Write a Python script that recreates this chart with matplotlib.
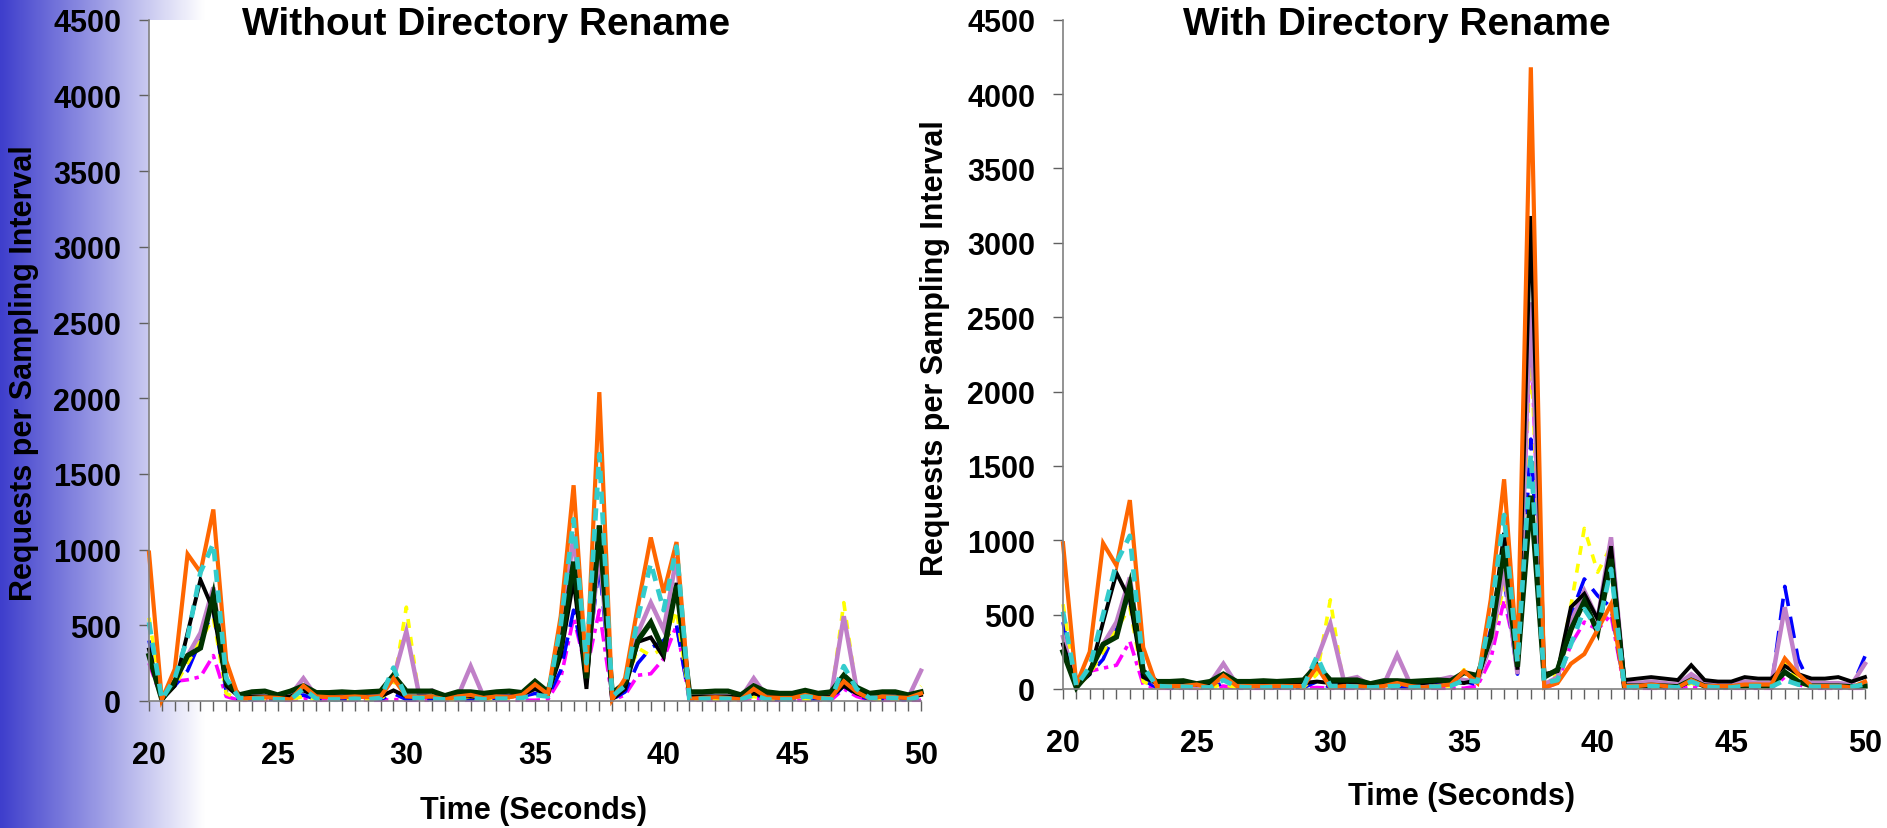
import numpy as np
import matplotlib
matplotlib.use('Agg')
import matplotlib.pyplot as plt
from matplotlib.ticker import MultipleLocator, FuncFormatter

plt.rcParams['font.family'] = ['Liberation Sans', 'DejaVu Sans']
plt.rcParams['font.weight'] = 'bold'

# sample times, 0.5 s steps from 20 to 50
times = [20 + 0.5 * i for i in range(61)]

# ---- Without Directory Rename ----
orange_l = [980, 10, 210, 970, 850, 1265, 265, 15, 20, 25,
            20, 10, 100, 30, 25, 25, 30, 25, 30, 150,
            30, 25, 30, 10, 30, 40, 20, 30, 25, 40,
            110, 45, 560, 1425, 190, 2040, 10, 150, 630, 1080,
            715, 1050, 15, 20, 25, 20, 10, 80, 25, 20,
            20, 40, 20, 20, 130, 60, 15, 30, 25, 20,
            50]
cyan_l = [520, 10, 150, 420, 850, 1040, 150, 20, 15, 15,
          10, 10, 80, 15, 10, 10, 15, 10, 20, 220,
          20, 20, 15, 10, 15, 20, 10, 15, 15, 20,
          40, 30, 500, 1200, 250, 1630, 30, 100, 550, 910,
          600, 1020, 10, 15, 15, 15, 10, 40, 10, 10,
          10, 30, 20, 10, 230, 80, 20, 20, 20, 10,
          30]
black_l = [340, 10, 100, 450, 800, 600, 100, 30, 30, 30,
           20, 30, 70, 30, 30, 30, 30, 30, 30, 70,
           30, 30, 30, 20, 30, 30, 20, 30, 30, 40,
           80, 40, 300, 800, 80, 1150, 10, 80, 390, 420,
           290, 780, 30, 30, 30, 30, 20, 50, 30, 30,
           30, 40, 30, 30, 100, 50, 20, 30, 30, 20,
           40]
green_l = [300, 10, 130, 300, 350, 700, 130, 40, 60, 65,
           40, 65, 100, 55, 55, 60, 55, 60, 65, 170,
           65, 65, 65, 35, 60, 60, 50, 60, 65, 55,
           130, 60, 350, 920, 150, 1160, 50, 120, 400, 520,
           330, 760, 60, 60, 65, 65, 40, 100, 60, 50,
           50, 70, 50, 60, 170, 90, 50, 60, 60, 40,
           60]
purple_l = [300, 10, 120, 300, 450, 750, 100, 30, 30, 30,
            20, 40, 150, 30, 30, 30, 40, 30, 30, 150,
            460, 40, 70, 20, 30, 230, 30, 30, 60, 40,
            80, 50, 400, 1100, 150, 1000, 20, 100, 450, 650,
            470, 950, 20, 30, 30, 30, 20, 150, 30, 20,
            20, 40, 30, 30, 560, 80, 20, 30, 30, 20,
            200]
yellow_l = [550, 10, 100, 250, 400, 550, 50, 10, 10, 10,
            10, 10, 30, 10, 10, 10, 10, 10, 10, 100,
            620, 20, 30, 10, 10, 30, 10, 10, 20, 20,
            130, 40, 300, 900, 300, 1100, 20, 100, 350, 300,
            350, 600, 10, 10, 10, 10, 10, 30, 10, 10,
            10, 10, 10, 10, 650, 60, 10, 10, 10, 10,
            100]
blue_l = [400, 10, 100, 200, 400, 600, 60, 10, 10, 10,
          10, 10, 40, 10, 10, 10, 10, 10, 10, 50,
          10, 10, 10, 10, 10, 10, 10, 20, 30, 30,
          50, 30, 200, 600, 200, 900, 10, 60, 250, 350,
          400, 500, 10, 10, 10, 10, 10, 50, 10, 10,
          10, 10, 10, 10, 100, 40, 10, 10, 10, 10,
          20]
magenta_l = [250, 10, 130, 140, 160, 300, 30, 5, 5, 5,
             5, 5, 20, 5, 5, 5, 5, 5, 5, 10,
             5, 5, 5, 5, 5, 5, 5, 5, 5, 5,
             5, 10, 150, 550, 200, 600, 5, 40, 170, 180,
             280, 500, 5, 5, 5, 5, 5, 20, 5, 5,
             5, 5, 5, 5, 80, 30, 5, 5, 5, 5,
             5]

# ---- With Directory Rename ----
orange_r = [980, 30, 250, 980, 830, 1270, 280, 20, 20, 20,
            30, 10, 90, 20, 20, 20, 20, 20, 20, 150,
            10, 20, 20, 10, 20, 40, 20, 10, 20, 30,
            120, 40, 600, 1410, 200, 4180, 10, 40, 170, 235,
            400, 570, 20, 20, 30, 20, 10, 60, 20, 20,
            20, 30, 30, 30, 205, 100, 20, 20, 20, 10,
            50]
cyan_r = [520, 20, 150, 500, 850, 1030, 150, 20, 15, 15,
          10, 10, 60, 15, 10, 10, 15, 10, 20, 220,
          20, 20, 15, 10, 15, 20, 10, 15, 15, 20,
          60, 50, 500, 1170, 180, 1580, 40, 60, 300, 538,
          403, 807, 10, 15, 20, 15, 10, 50, 15, 10,
          10, 20, 20, 15, 60, 30, 15, 15, 15, 15,
          30]
black_r = [300, 20, 100, 450, 780, 600, 80, 40, 40, 40,
           30, 40, 80, 40, 40, 40, 40, 40, 40, 50,
           40, 40, 40, 30, 40, 40, 40, 40, 50, 50,
           40, 60, 350, 1050, 130, 3180, 100, 120, 550, 640,
           470, 960, 60, 70, 80, 70, 60, 160, 60, 50,
           50, 80, 70, 70, 155, 100, 70, 70, 80, 50,
           80]
green_r = [250, 10, 120, 300, 350, 700, 120, 50, 50, 55,
           35, 50, 100, 50, 50, 55, 50, 55, 60, 160,
           60, 60, 60, 35, 55, 55, 50, 55, 60, 55,
           110, 90, 350, 950, 150, 1300, 80, 130, 400, 590,
           383, 874, 20, 20, 25, 20, 15, 60, 20, 15,
           15, 20, 20, 20, 114, 50, 20, 20, 20, 15,
           20]
purple_r = [350, 20, 120, 300, 450, 750, 100, 30, 30, 30,
            20, 40, 170, 30, 30, 30, 40, 30, 30, 200,
            440, 60, 80, 20, 30, 230, 30, 30, 60, 80,
            60, 50, 300, 800, 100, 2600, 30, 80, 450, 660,
            470, 1020, 40, 40, 50, 40, 30, 100, 40, 30,
            30, 50, 40, 40, 550, 100, 40, 40, 40, 30,
            170]
yellow_r = [570, 10, 100, 250, 400, 550, 50, 10, 10, 10,
            10, 10, 30, 10, 10, 10, 10, 10, 10, 100,
            600, 20, 30, 10, 10, 30, 10, 10, 20, 20,
            130, 40, 300, 700, 200, 2300, 30, 100, 560, 1080,
            785, 960, 10, 10, 10, 10, 10, 40, 10, 10,
            10, 10, 10, 10, 180, 60, 10, 10, 10, 10,
            30]
blue_r = [450, 10, 100, 200, 400, 650, 60, 10, 10, 10,
          10, 10, 40, 10, 10, 10, 10, 10, 10, 50,
          10, 10, 10, 10, 10, 10, 10, 20, 30, 80,
          50, 30, 400, 740, 100, 1680, 20, 60, 500, 740,
          627, 550, 10, 10, 10, 10, 10, 50, 10, 10,
          10, 10, 10, 10, 690, 200, 10, 10, 10, 10,
          220]
magenta_r = [300, 10, 120, 140, 160, 320, 30, 5, 5, 5,
             5, 5, 20, 5, 5, 5, 5, 5, 5, 10,
             5, 5, 5, 5, 5, 5, 5, 5, 5, 5,
             5, 20, 200, 600, 200, 2400, 5, 40, 300, 450,
             400, 500, 5, 5, 5, 5, 5, 20, 5, 5,
             5, 5, 5, 5, 80, 30, 5, 5, 5, 5,
             5]

# draw order bottom -> top, with style of each series
styles = [
    ('magenta', dict(color='#FF00FF', lw=2.6, dashes=(4, 1.6, 1.2, 1.6))),
    ('blue', dict(color='#0000FF', lw=2.6, dashes=(6, 3))),
    ('yellow', dict(color='#FFFF00', lw=2.6, dashes=(2.5, 2.5))),
    ('purple', dict(color='#C080C8', lw=3.2)),
    ('black', dict(color='#000000', lw=2.8)),
    ('green', dict(color='#003300', lw=3.8)),
    ('orange', dict(color='#FF6600', lw=3.0)),
    ('cyan', dict(color='#33CCCC', lw=3.4, dashes=(2.6, 1.8))),
]

left = dict(magenta=magenta_l, blue=blue_l, yellow=yellow_l, purple=purple_l,
            black=black_l, green=green_l, orange=orange_l, cyan=cyan_l)
right = dict(magenta=magenta_r, blue=blue_r, yellow=yellow_r, purple=purple_r,
             black=black_r, green=green_r, orange=orange_r, cyan=cyan_r)

W, H = 1887, 829
fig = plt.figure(figsize=(W / 100, H / 100), dpi=100)
fig.patch.set_facecolor('white')

# blue fade on the left edge
bg = fig.add_axes([0, 0, 205 / W, 1], zorder=-5)
f = np.linspace(0, 1, 256)
blue = np.array([62, 62, 204]) / 255.0
grad = blue[None, :] * (1 - f[:, None]) + f[:, None]
bg.imshow(grad[None, :, :], aspect='auto', extent=[0, 1, 0, 1])
bg.axis('off')


def px_axes(x0, x1, ytop, ybot):
    return fig.add_axes([x0 / W, 1 - ybot / H, (x1 - x0) / W, (ybot - ytop) / H])


def setup(ax, series):
    for name, st in styles:
        ax.plot(times, series[name], solid_joinstyle='miter', clip_on=False, **st)
    ax.set_xlim(20, 50)
    ax.set_ylim(0, 4500)
    ax.xaxis.set_major_locator(MultipleLocator(0.5))
    ax.xaxis.set_major_formatter(FuncFormatter(
        lambda v, p: f'{int(round(v))}' if abs(v / 5 - round(v / 5)) < 1e-6 else ''))
    ax.yaxis.set_major_locator(MultipleLocator(500))
    for s in ('top', 'right'):
        ax.spines[s].set_visible(False)
    for s in ('left', 'bottom'):
        ax.spines[s].set_color('#808080')
        ax.spines[s].set_linewidth(1.2)
    ax.tick_params(axis='x', direction='out', length=7, width=1, color='#606060',
                   pad=21, labelsize=22)
    ax.tick_params(axis='y', direction='out', length=7, width=1, color='#606060',
                   pad=13, labelsize=22)
    for lab in ax.get_xticklabels() + ax.get_yticklabels():
        lab.set_fontweight('bold')


ax1 = px_axes(149, 921, 20.7, 702)
setup(ax1, left)
ax2 = px_axes(1063, 1865, 20.7, 690)
setup(ax2, right)

fig.text(486 / W, 1 - 25 / H, 'Without Directory Rename', ha='center', va='center',
         fontsize=28, fontweight='bold')
fig.text(1397 / W, 1 - 25 / H, 'With Directory Rename', ha='center', va='center',
         fontsize=28, fontweight='bold')
fig.text(24 / W, 1 - 373 / H, 'Requests per Sampling Interval', rotation=90,
         ha='center', va='center', fontsize=22, fontweight='bold')
fig.text(935 / W, 1 - 348 / H, 'Requests per Sampling Interval', rotation=90,
         ha='center', va='center', fontsize=22, fontweight='bold')
fig.text(533 / W, 1 - 811 / H, 'Time (Seconds)', ha='center', va='center',
         fontsize=22, fontweight='bold')
fig.text(1462 / W, 1 - 797 / H, 'Time (Seconds)', ha='center', va='center',
         fontsize=22, fontweight='bold')

fig.savefig('out.png', dpi=100)
